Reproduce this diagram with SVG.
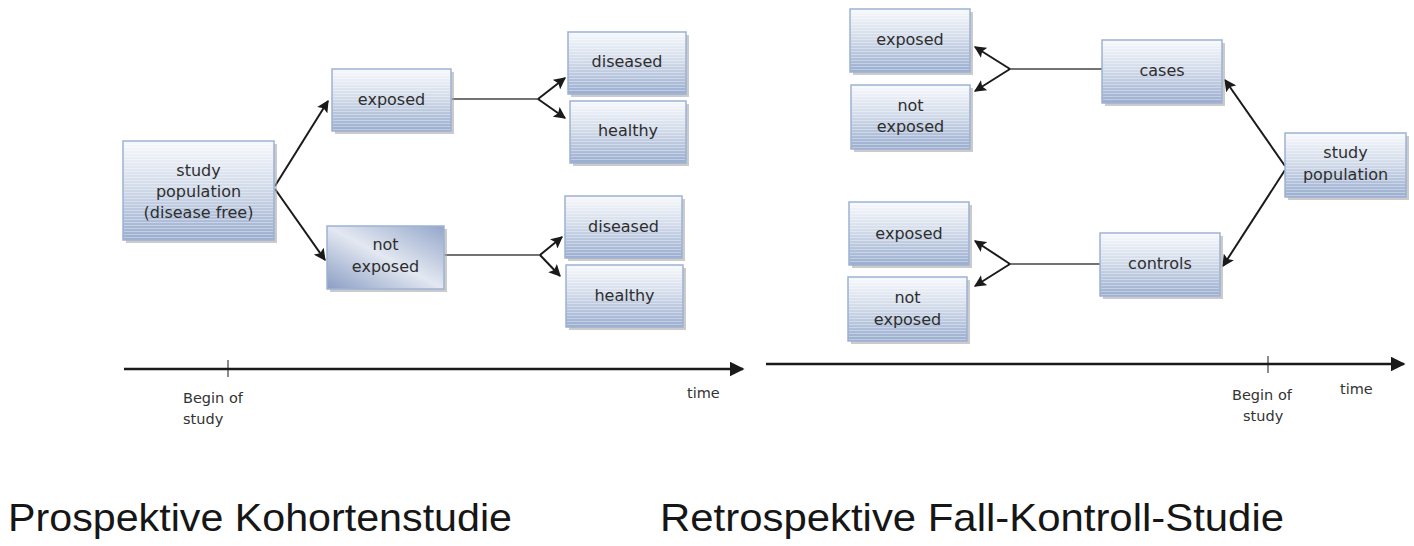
<svg xmlns="http://www.w3.org/2000/svg" width="1414" height="546" viewBox="0 0 1414 546">
<defs>
<linearGradient id="g" x1="0" y1="0" x2="0" y2="1">
<stop offset="0" stop-color="#f7f9fc"/>
<stop offset="0.45" stop-color="#d3dcea"/>
<stop offset="1" stop-color="#9aadcf"/>
</linearGradient>
<linearGradient id="gd" x1="0" y1="1" x2="1" y2="0">
<stop offset="0" stop-color="#8a9dc4"/>
<stop offset="0.5" stop-color="#e3e8f1"/>
<stop offset="1" stop-color="#93a6ca"/>
</linearGradient>
<pattern id="stripes" width="4" height="3" patternUnits="userSpaceOnUse">
<rect x="0" y="0" width="4" height="1" fill="#ffffff" opacity="0.35"/>
</pattern>
<marker id="ah" viewBox="0 0 10 10" refX="9" refY="5" markerWidth="6" markerHeight="6" orient="auto" markerUnits="strokeWidth">
<path d="M0,0 L10,5 L0,10 L2,5 z" fill="#1a1a1a"/>
</marker>
<marker id="ahT" viewBox="0 0 10 10" refX="9" refY="5" markerWidth="6" markerHeight="6" orient="auto" markerUnits="strokeWidth">
<path d="M0,0 L10,5 L0,10 z" fill="#1a1a1a"/>
</marker>
</defs>
<style>
.sh{fill:#a9a9a9;opacity:0.6}
.bx{fill:url(#g);stroke:#9fb3d4;stroke-width:1.5}
.bxd{fill:url(#gd);stroke:#9fb3d4;stroke-width:1.5}
.st{fill:url(#stripes)}
.t{font-family:"DejaVu Sans",Verdana,sans-serif;font-size:16px;fill:#2e2e2e;text-anchor:middle}
.ax{font-family:"DejaVu Sans",Verdana,sans-serif;font-size:14.5px;fill:#333}
.cap{font-family:"Liberation Sans",Arial,sans-serif;font-size:39px;fill:#161616}
.ar{stroke:#1a1a1a;stroke-width:2;fill:none;marker-end:url(#ah)}
.hl{stroke:#444;stroke-width:1.3;fill:none}
.tl{stroke:#1a1a1a;stroke-width:2.5;fill:none}
.tk{stroke:#1a1a1a;stroke-width:1;fill:none}
</style>
<rect width="1414" height="546" fill="#ffffff"/>

<g id="connectors">
<line class="ar" x1="275" y1="186" x2="328" y2="101"/>
<line class="ar" x1="275" y1="189" x2="325" y2="260"/>
<line class="hl" x1="451" y1="99" x2="538" y2="99"/>
<line class="ar" x1="538" y1="99" x2="565" y2="78"/>
<line class="ar" x1="538" y1="99" x2="565" y2="118"/>
<line class="hl" x1="444" y1="255" x2="540" y2="255"/>
<line class="ar" x1="540" y1="255" x2="562" y2="237"/>
<line class="ar" x1="540" y1="255" x2="560" y2="276"/>

<line class="ar" x1="1285" y1="166" x2="1225" y2="80"/>
<line class="ar" x1="1285" y1="170" x2="1223" y2="266"/>
<line class="hl" x1="1102" y1="69" x2="1010" y2="69"/>
<line class="ar" x1="1010" y1="69" x2="975" y2="47"/>
<line class="ar" x1="1010" y1="69" x2="975" y2="91"/>
<line class="hl" x1="1100" y1="264" x2="1010" y2="264"/>
<line class="ar" x1="1010" y1="264" x2="975" y2="241"/>
<line class="ar" x1="1010" y1="264" x2="975" y2="286"/>
</g>

<g id="timeline-left">
<line class="tl" x1="124" y1="369" x2="743" y2="369" marker-end="url(#ahT)"/>
<line class="tk" x1="228" y1="360" x2="228" y2="377"/>
<text class="ax" x="183" y="403">Begin of</text>
<text class="ax" x="183" y="424">study</text>
<text class="ax" x="687" y="398">time</text>
</g>
<g id="timeline-right">
<line class="tl" x1="766" y1="364" x2="1404" y2="364" marker-end="url(#ahT)"/>
<line class="tk" x1="1268" y1="356" x2="1268" y2="373"/>
<text class="ax" x="1232" y="400">Begin of</text>
<text class="ax" x="1243" y="421">study</text>
<text class="ax" x="1340" y="394">time</text>
</g>

<g id="n_pop1">
<rect class="sh" x="126" y="144" width="151" height="99"/>
<rect class="bx" x="123" y="141" width="151" height="99"/>
<rect class="st" x="124" y="142" width="149" height="97"/>
<text class="t" x="198.5" y="176">study</text>
<text class="t" x="198.5" y="197">population</text>
<text class="t" x="198.5" y="218">(disease free)</text>
</g>
<g id="n_exp1">
<rect class="sh" x="335" y="72" width="119" height="62"/>
<rect class="bx" x="332" y="69" width="119" height="62"/>
<rect class="st" x="333" y="70" width="117" height="60"/>
<text class="t" x="391.5" y="105">exposed</text>
</g>
<g id="n_nexp1">
<rect class="sh" x="330" y="229" width="117" height="63"/>
<rect class="bxd" x="327" y="226" width="117" height="63"/>
<text class="t" x="385.5" y="250">not</text>
<text class="t" x="385.5" y="272">exposed</text>
</g>
<g id="n_dis1">
<rect class="sh" x="571" y="35" width="118" height="62"/>
<rect class="bx" x="568" y="32" width="118" height="62"/>
<rect class="st" x="569" y="33" width="116" height="60"/>
<text class="t" x="627" y="67">diseased</text>
</g>
<g id="n_hea1">
<rect class="sh" x="573" y="104" width="116" height="62"/>
<rect class="bx" x="570" y="101" width="116" height="62"/>
<rect class="st" x="571" y="102" width="114" height="60"/>
<text class="t" x="628" y="136">healthy</text>
</g>
<g id="n_dis2">
<rect class="sh" x="568" y="199" width="117" height="62"/>
<rect class="bx" x="565" y="196" width="117" height="62"/>
<rect class="st" x="566" y="197" width="115" height="60"/>
<text class="t" x="623.5" y="232">diseased</text>
</g>
<g id="n_hea2">
<rect class="sh" x="569" y="268" width="117" height="62"/>
<rect class="bx" x="566" y="265" width="117" height="62"/>
<rect class="st" x="567" y="266" width="115" height="60"/>
<text class="t" x="624.5" y="301">healthy</text>
</g>

<g id="n_exp2">
<rect class="sh" x="853" y="12" width="120" height="63"/>
<rect class="bx" x="850" y="9" width="120" height="63"/>
<rect class="st" x="851" y="10" width="118" height="61"/>
<text class="t" x="910" y="45">exposed</text>
</g>
<g id="n_nexp2">
<rect class="sh" x="854" y="88" width="119" height="64"/>
<rect class="bx" x="851" y="85" width="119" height="64"/>
<rect class="st" x="852" y="86" width="117" height="62"/>
<text class="t" x="910.5" y="111">not</text>
<text class="t" x="910.5" y="132">exposed</text>
</g>
<g id="n_cases">
<rect class="sh" x="1105" y="43" width="120" height="63"/>
<rect class="bx" x="1102" y="40" width="120" height="63"/>
<rect class="st" x="1103" y="41" width="118" height="61"/>
<text class="t" x="1162" y="76">cases</text>
</g>
<g id="n_pop2">
<rect class="sh" x="1288" y="136" width="121" height="64"/>
<rect class="bx" x="1285" y="133" width="121" height="64"/>
<rect class="st" x="1286" y="134" width="119" height="62"/>
<text class="t" x="1345.5" y="158">study</text>
<text class="t" x="1345.5" y="180">population</text>
</g>
<g id="n_exp3">
<rect class="sh" x="852" y="205" width="120" height="63"/>
<rect class="bx" x="849" y="202" width="120" height="63"/>
<rect class="st" x="850" y="203" width="118" height="61"/>
<text class="t" x="909" y="239">exposed</text>
</g>
<g id="n_nexp3">
<rect class="sh" x="851" y="280" width="119" height="64"/>
<rect class="bx" x="848" y="277" width="119" height="64"/>
<rect class="st" x="849" y="278" width="117" height="62"/>
<text class="t" x="907.5" y="303">not</text>
<text class="t" x="907.5" y="325">exposed</text>
</g>
<g id="n_ctrl">
<rect class="sh" x="1103" y="236" width="120" height="63"/>
<rect class="bx" x="1100" y="233" width="120" height="63"/>
<rect class="st" x="1101" y="234" width="118" height="61"/>
<text class="t" x="1160" y="269">controls</text>
</g>

<g id="captions">
<text class="cap" x="8" y="531" textLength="504" lengthAdjust="spacingAndGlyphs">Prospektive Kohortenstudie</text>
<text class="cap" x="660" y="531" textLength="624" lengthAdjust="spacingAndGlyphs">Retrospektive Fall-Kontroll-Studie</text>
</g>
</svg>
